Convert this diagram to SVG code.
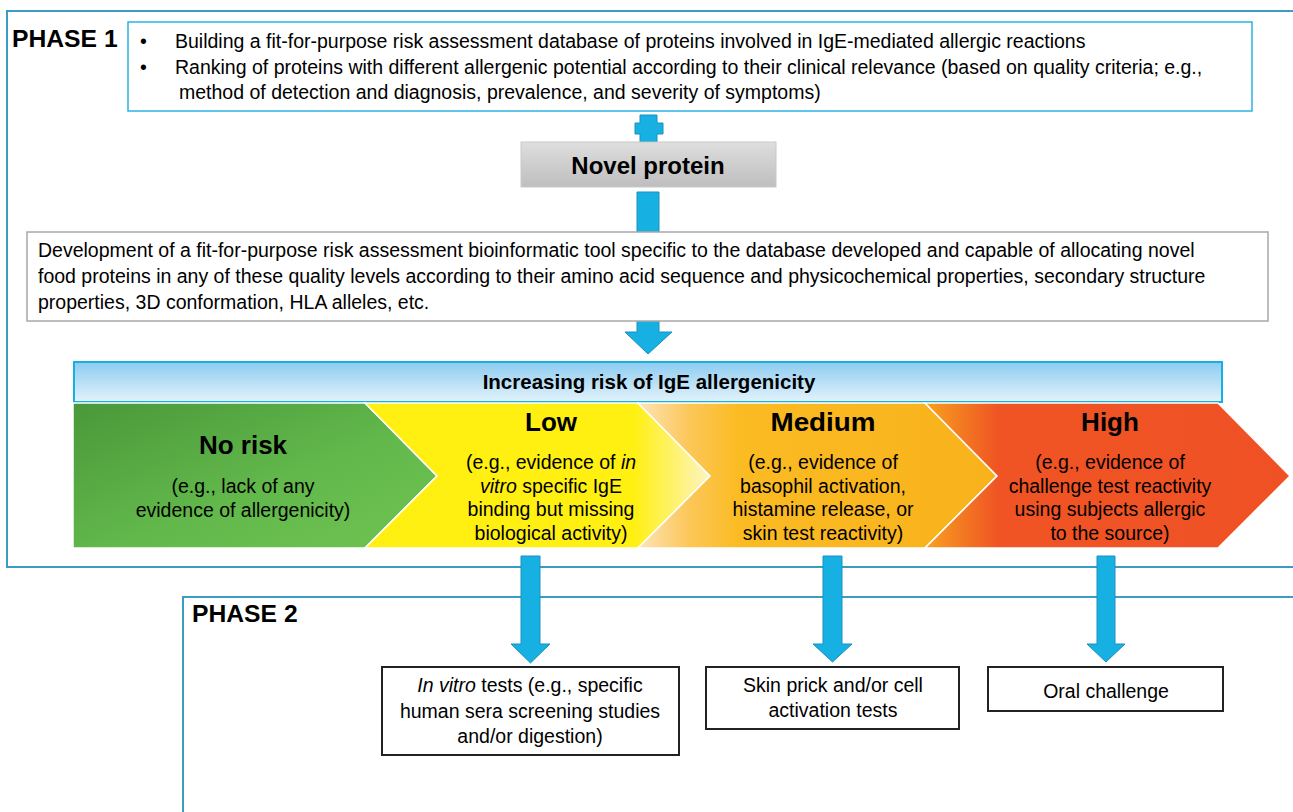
<svg xmlns="http://www.w3.org/2000/svg" width="1293" height="812" viewBox="0 0 1293 812">
<defs>
<linearGradient id="gBand" x1="0" y1="0" x2="0" y2="1"><stop offset="0" stop-color="#8ccbf0"/><stop offset="1" stop-color="#e3f3fb"/></linearGradient>
<linearGradient id="gNovel" x1="0" y1="0" x2="0" y2="1"><stop offset="0" stop-color="#dedede"/><stop offset="1" stop-color="#bebebe"/></linearGradient>
<linearGradient id="gNo" x1="0" y1="0" x2="1" y2="1"><stop offset="0" stop-color="#4a983a"/><stop offset="0.55" stop-color="#62b84b"/><stop offset="1" stop-color="#6fc352"/></linearGradient>
<linearGradient id="gLow" x1="0" y1="0" x2="1" y2="0"><stop offset="0" stop-color="#fff012"/><stop offset="0.78" stop-color="#fff012"/><stop offset="1" stop-color="#fdf4c2"/></linearGradient>
<linearGradient id="gMed" x1="0" y1="0" x2="1" y2="0"><stop offset="0" stop-color="#fde4b8"/><stop offset="0.14" stop-color="#fcc75a"/><stop offset="0.28" stop-color="#fbbb22"/><stop offset="1" stop-color="#f9b21b"/></linearGradient>
<linearGradient id="gHigh" x1="0" y1="0" x2="1" y2="0"><stop offset="0" stop-color="#f8a11f"/><stop offset="0.1" stop-color="#f37a22"/><stop offset="0.2" stop-color="#f05424"/><stop offset="1" stop-color="#ef5124"/></linearGradient>
</defs>
<style>
text{font-family:"Liberation Sans",Arial,sans-serif;fill:#000}
.frame{fill:none;stroke:#3a9cc4;stroke-width:2}
.arrow{fill:#16b1e2;stroke:#1b90c0;stroke-width:1}
.body{font-size:19.5px}
.ctr{text-anchor:middle}
.h{font-weight:bold}
.title{font-size:26px}
.phase{font-size:24.7px}
.chev{stroke:#fff;stroke-width:1.5}
.tbox{fill:#fff;stroke:#222;stroke-width:2}
</style>
<rect width="1293" height="812" fill="#fff"/>
<g id="frames">
<path class="frame" d="M1300,11 H7 V567 H1300"/>
<path class="frame" d="M1300,597 H183 V820"/>
<text x="12" y="47" class="h phase">PHASE 1</text>
<text x="192" y="622" class="h phase">PHASE 2</text>
</g>
<g id="connectors">
<polygon class="arrow" points="640,115 657,115 657,123 663,123 663,134 657,134 657,142 640,142 640,134 635,134 635,123 640,123"/>
<polygon class="arrow" points="637,192 659,192 659,332 672,332 648,354 625,332 637,332"/>
<polygon class="arrow" points="521,556 540,556 540,644 550,644 530.5,663 511,644 521,644"/>
<polygon class="arrow" points="823,556 842,556 842,644 852,644 832.5,662 813,644 823,644"/>
<polygon class="arrow" points="1097,556 1115,556 1115,644 1125,644 1106,662 1087,644 1097,644"/>
</g>
<g id="criteria">
<rect x="128" y="22" width="1124" height="89" fill="#fff" stroke="#2bb3e3" stroke-width="1.5"/>
<text x="140" y="48" class="body">•</text>
<text x="175" y="48" class="body">Building a fit-for-purpose risk assessment database of proteins involved in IgE-mediated allergic reactions</text>
<text x="140" y="74" class="body">•</text>
<text x="175" y="74" class="body">Ranking of proteins with different allergenic potential according to their clinical relevance (based on quality criteria; e.g.,</text>
<text x="179" y="99" class="body">method of detection and diagnosis, prevalence, and severity of symptoms)</text>
</g>
<g id="novel-protein">
<rect x="521" y="142" width="255" height="45" fill="url(#gNovel)" stroke="#c9c9c9" stroke-width="1"/>
<text x="648" y="174" class="h ctr" style="font-size:24px">Novel protein</text>
</g>
<g id="tool">
<rect x="27" y="232" width="1241" height="89" fill="#fff" stroke="#a8a8a8" stroke-width="1.5"/>
<text x="38" y="257" class="body">Development of a fit-for-purpose risk assessment bioinformatic tool specific to the database developed and capable of allocating novel</text>
<text x="38" y="283" class="body">food proteins in any of these quality levels according to their amino acid sequence and physicochemical properties, secondary structure</text>
<text x="38" y="309" class="body">properties, 3D conformation, HLA alleles, etc.</text>
</g>
<g id="risk-scale">
<rect x="74" y="362" width="1148" height="40" fill="url(#gBand)" stroke="#16b1e2" stroke-width="2"/>
<text x="649" y="389" class="h ctr" style="font-size:20.5px">Increasing risk of IgE allergenicity</text>
</g>
<g id="no-risk">
<polygon class="chev" fill="url(#gNo)" points="73,403 365,403 437,476 365,548 73,548"/>
<text x="243" y="454" class="h ctr title">No risk</text>
<text x="243" y="493" class="body ctr">(e.g., lack of any</text>
<text x="243" y="517" class="body ctr">evidence of allergenicity)</text>
</g>
<g id="low">
<polygon class="chev" fill="url(#gLow)" points="365,403 638,403 710,476 638,548 365,548 437,476"/>
<text x="551" y="431" class="h ctr title">Low</text>
<text x="551" y="469" class="body ctr">(e.g., evidence of <tspan font-style="italic">in</tspan></text>
<text x="551" y="493" class="body ctr"><tspan font-style="italic">vitro</tspan> specific IgE</text>
<text x="551" y="516" class="body ctr">binding but missing</text>
<text x="551" y="540" class="body ctr">biological activity)</text>
</g>
<g id="medium">
<polygon class="chev" fill="url(#gMed)" points="638,403 925,403 997,476 925,548 638,548 710,476"/>
<text x="823" y="431" class="h ctr title" textLength="105" lengthAdjust="spacingAndGlyphs">Medium</text>
<text x="823" y="469" class="body ctr">(e.g., evidence of</text>
<text x="823" y="493" class="body ctr">basophil activation,</text>
<text x="823" y="516" class="body ctr">histamine release, or</text>
<text x="823" y="540" class="body ctr">skin test reactivity)</text>
</g>
<g id="high">
<polygon class="chev" fill="url(#gHigh)" points="925,403 1218,403 1290,476 1218,548 925,548 997,476"/>
<text x="1110" y="431" class="h ctr title">High</text>
<text x="1110" y="469" class="body ctr">(e.g., evidence of</text>
<text x="1110" y="493" class="body ctr">challenge test reactivity</text>
<text x="1110" y="516" class="body ctr">using subjects allergic</text>
<text x="1110" y="540" class="body ctr">to the source)</text>
</g>
<g id="in-vitro-tests">
<rect class="tbox" x="382" y="667" width="297" height="88"/>
<text x="530" y="692" class="body ctr"><tspan font-style="italic">In vitro</tspan> tests (e.g., specific</text>
<text x="530" y="718" class="body ctr">human sera screening studies</text>
<text x="530" y="743" class="body ctr">and/or digestion)</text>
</g>
<g id="skin-prick-tests">
<rect class="tbox" x="706" y="667" width="253" height="62"/>
<text x="833" y="692" class="body ctr">Skin prick and/or cell</text>
<text x="833" y="717" class="body ctr">activation tests</text>
</g>
<g id="oral-challenge">
<rect class="tbox" x="988" y="667" width="235" height="44"/>
<text x="1106" y="698" class="body ctr">Oral challenge</text>
</g>
</svg>
